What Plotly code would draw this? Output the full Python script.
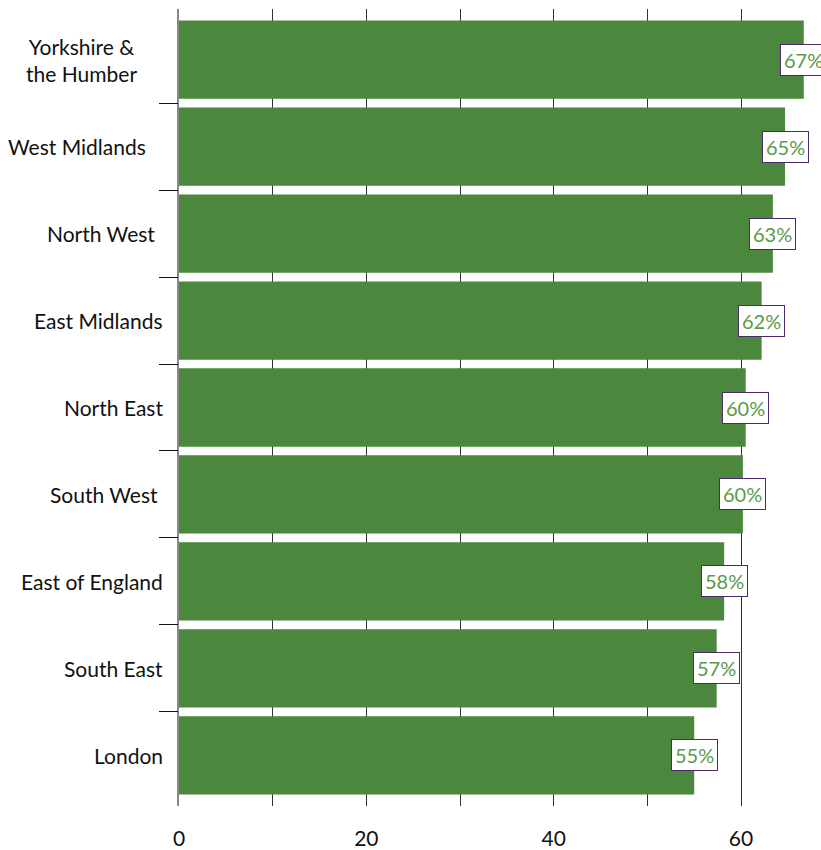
import plotly.graph_objects as go

regions = ["Yorkshire &<br>the Humber", "West Midlands", "North West", "East Midlands",
           "North East", "South West", "East of England", "South East", "London"]
values = [66.7, 64.7, 63.4, 62.2, 60.5, 60.2, 58.2, 57.4, 55.0]
labels = ["67%", "65%", "63%", "62%", "60%", "60%", "58%", "57%", "55%"]
label_right = [None, 148, 157, 165, 165, 160, 165, 165, 165]

FONT = "Lato"
BAR = "#4b873d"
TXT_GREEN = "#5a9a48"
PURPLE = "#4a2a6b"
L, W = 179, 642
n = len(regions)
yr = [n - 1 + 0.583, -0.583]

fig = go.Figure()
fig.add_trace(go.Bar(
    y=regions, x=values, orientation="h",
    marker=dict(color=BAR, line=dict(width=0)),
    hoverinfo="skip",
))
# invisible helper trace on overlay axis for boundary ticks
fig.add_trace(go.Scatter(x=[None], y=[None], yaxis="y2", showlegend=False, hoverinfo="skip"))

for r, v, t in zip(regions, values, labels):
    fig.add_annotation(x=v, y=r, xref="x", yref="y", text=t, showarrow=False,
                       font=dict(family=FONT, size=20, color=TXT_GREEN),
                       bgcolor="white", bordercolor=PURPLE, borderwidth=1, borderpad=3,
                       xanchor="center", yanchor="middle")

for r, rx in zip(regions, label_right):
    if rx is None:
        fig.add_annotation(x=(81 - L) / W, y=r, xref="paper", yref="y", text=r, showarrow=False,
                           font=dict(family=FONT, size=21, color="#111111"),
                           xanchor="center", yanchor="middle", align="center")
    else:
        fig.add_annotation(x=(rx - L) / W, y=r, xref="paper", yref="y", text=r, showarrow=False,
                           font=dict(family=FONT, size=21, color="#111111"),
                           xanchor="right", yanchor="middle")

fig.update_layout(
    width=821, height=850,
    margin=dict(l=L, r=0, t=9, b=37),
    paper_bgcolor="white", plot_bgcolor="white",
    bargap=0.1, showlegend=False,
    font=dict(family=FONT, size=20, color="#111111"),
    xaxis=dict(
        range=[0, W / 9.367], tickmode="linear", tick0=0, dtick=20,
        showgrid=True, gridcolor="#333333", gridwidth=1,
        minor=dict(dtick=10, showgrid=True, gridcolor="#333333", gridwidth=1),
        zeroline=False, showline=False, ticks="", ticklabelstandoff=18,
        tickfont=dict(family=FONT, size=21, color="#111111"),
    ),
    yaxis=dict(
        type="category", categoryorder="array", categoryarray=regions,
        autorange=False, range=yr,
        showticklabels=False, ticks="",
        showline=True, linecolor="#888888", linewidth=2,
        showgrid=False, zeroline=False,
    ),
    yaxis2=dict(overlaying="y", side="left", range=yr, autorange=False,
                tickmode="array", tickvals=[i + 0.5 for i in range(n - 1)],
                showticklabels=False, ticks="outside", ticklen=19,
                tickcolor="#111111", tickwidth=1, showgrid=False, zeroline=False,
                showline=False),
)

fig.write_html("out.html")
